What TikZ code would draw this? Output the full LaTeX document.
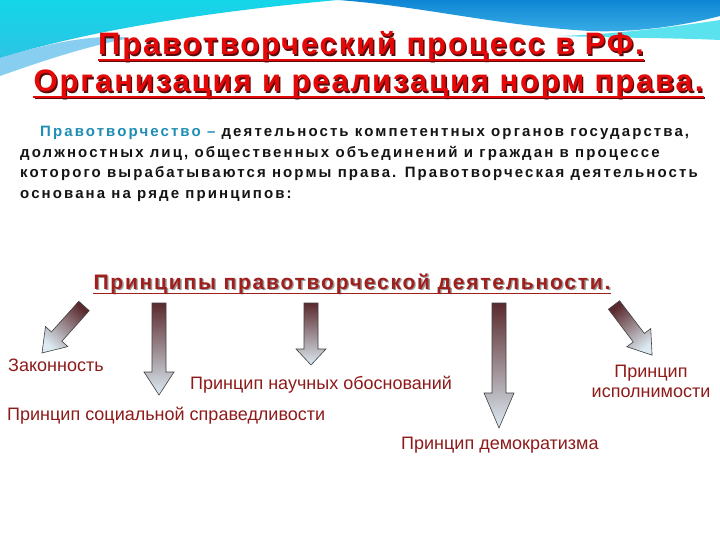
\documentclass[tikz,border=0pt]{standalone}
\usepackage{fontspec}
\setmainfont{Liberation Sans}
\newfontfamily\titlefont[LetterSpace=6]{Liberation Sans}
\newfontfamily\bodyfont[LetterSpace=14]{Liberation Sans}
\newfontfamily\headfont[LetterSpace=8.5]{Liberation Sans}
\usetikzlibrary{calc}

\definecolor{titlered}{HTML}{E40808}
\definecolor{shadowred}{HTML}{5A0A0A}
\definecolor{termteal}{HTML}{1E8EB4}
\definecolor{bodyblack}{HTML}{141414}
\definecolor{headred}{HTML}{A01E1C}
\definecolor{labelred}{HTML}{8E1A1A}
\definecolor{arrowdark}{HTML}{5A2A2E}
\definecolor{arrowlight}{HTML}{DCEAF2}
\definecolor{bgcyan}{HTML}{14D6E8}
\definecolor{bgcyanlow}{HTML}{2CC4E4}
\definecolor{bgblue}{HTML}{0E86D4}
\definecolor{bgbluelow}{HTML}{3AAEE6}

\tikzset{
  titletext/.style={font=\titlefont\bfseries\fontsize{31}{31}\selectfont,
    text=titlered, inner sep=0pt, anchor=base},
  headtext/.style={font=\headfont\bfseries\fontsize{21}{21}\selectfont,
    text=headred, inner sep=0pt, anchor=base},
  bodytext/.style={font=\bodyfont\bfseries\fontsize{15}{15}\selectfont,
    text=bodyblack, inner sep=0pt, anchor=base west},
  labeltext/.style={font=\fontsize{18}{18}\selectfont,
    text=labelred, inner sep=0pt},
  arrowbody/.style={draw=black!75, line width=0.6pt,
    top color=arrowdark, bottom color=arrowlight},
  uline/.style={line width=2pt}
}

% text with a dark copy behind it
\newcommand{\shadowed}[2]{%
  \makebox[0pt][l]{\kern1.4pt\raisebox{-1.4pt}{\textcolor{#1}{#2}}}#2}

% block arrow: tail, angle, length, head length, shading angle
\newcommand{\blockarrow}[5]{%
  \begin{scope}[shift={(#1)}, rotate=#2]
    \shadedraw[arrowbody, shading angle=#5] (0,-7) -- ({#3-#4},-7) -- ({#3-#4},-15)
      -- (#3,0) -- ({#3-#4},15) -- ({#3-#4},7) -- (0,7) -- cycle;
  \end{scope}}

\begin{document}
\begin{tikzpicture}[x=1pt,y=-1pt]
  \useasboundingbox (0,0) rectangle (720,540);
  \fill[white] (0,0) rectangle (720,540);

  % background swoosh
  \shade[top color=bgcyan, bottom color=bgcyanlow]
    (0,0) -- (338,0) .. controls (250,8) and (110,24) .. (0,58) -- cycle;
  \fill[bgbluelow, opacity=0.6]
    (0,58) .. controls (40,46) and (90,33) .. (130,38)
    .. controls (80,48) and (40,62) .. (0,76) -- cycle;
  \shade[top color=bgblue, bottom color=bgbluelow]
    (338,0) .. controls (420,6) and (500,26) .. (590,31)
    .. controls (640,33) and (690,24) .. (720,16) -- (720,0) -- cycle;
  \fill[bgcyan, opacity=0.7]
    (560,36) .. controls (620,34) and (680,26) .. (720,20)
    -- (720,40) .. controls (680,38) and (620,38) .. cycle;

  % title
  \node[titletext] (title1) at (371,55)
    {\shadowed{shadowred}{Правотворческий процесс в РФ.}};
  \node[titletext] (title2) at (368.5,92)
    {\shadowed{shadowred}{Организация и реализация норм права.}};
  \draw[uline, shadowred] ([shift={(1.4,6.2)}]title1.base west) -- ([shift={(1.4,6.2)}]title1.base east);
  \draw[uline, titlered] ([yshift=-4.8pt]title1.base west) -- ([yshift=-4.8pt]title1.base east);
  \draw[uline, shadowred] ([shift={(1.4,6.2)}]title2.base west) -- ([shift={(1.4,6.2)}]title2.base east);
  \draw[uline, titlered] ([yshift=-4.8pt]title2.base west) -- ([yshift=-4.8pt]title2.base east);

  % definition
  \node[bodytext] (body1) at (40,137)
    {\textcolor{termteal}{Правотворчество –} деятельность компетентных органов государства,};
  \node[bodytext] (body2) at (20,157.5)
    {должностных лиц, общественных объединений и граждан в процессе};
  \node[bodytext] (body3) at (20,178)
    {которого вырабатываются нормы права. Правотворческая деятельность};
  \node[bodytext] (body4) at (20,198.5)
    {основана на ряде принципов:};

  % principles
  \node[headtext] (heading) at (352,289)
    {\shadowed{black!40}{Принципы правотворческой деятельности.}};
  \draw[line width=1.8pt, headred] ([yshift=-4.5pt]heading.base west) -- ([yshift=-4.5pt]heading.base east);

  \coordinate (lawtail) at (84,306);
  \coordinate (socialtail) at (159,303);
  \coordinate (sciencetail) at (311,303);
  \coordinate (demotail) at (499,303);
  \coordinate (exectail) at (614,305);

  \blockarrow{lawtail}{-131.8}{63}{22}{-41.8}
  \blockarrow{socialtail}{-90}{92}{23}{0}
  \blockarrow{sciencetail}{-90}{62}{16}{0}
  \blockarrow{demotail}{-90}{125}{35}{0}
  \blockarrow{exectail}{-52.8}{63}{22}{37.2}

  \node[labeltext, anchor=base west] (law) at (8,371) {Законность};
  \node[labeltext, anchor=base west] (science) at (190,389) {Принцип научных обоснований};
  \node[labeltext, anchor=base west] (social) at (7,420) {Принцип социальной справедливости};
  \node[labeltext, anchor=base west] (demo) at (401,449) {Принцип демократизма};
  \node[labeltext, anchor=base] (exec1) at (651,377) {Принцип};
  \node[labeltext, anchor=base] (exec2) at (651,397) {исполнимости};
\end{tikzpicture}
\end{document}
